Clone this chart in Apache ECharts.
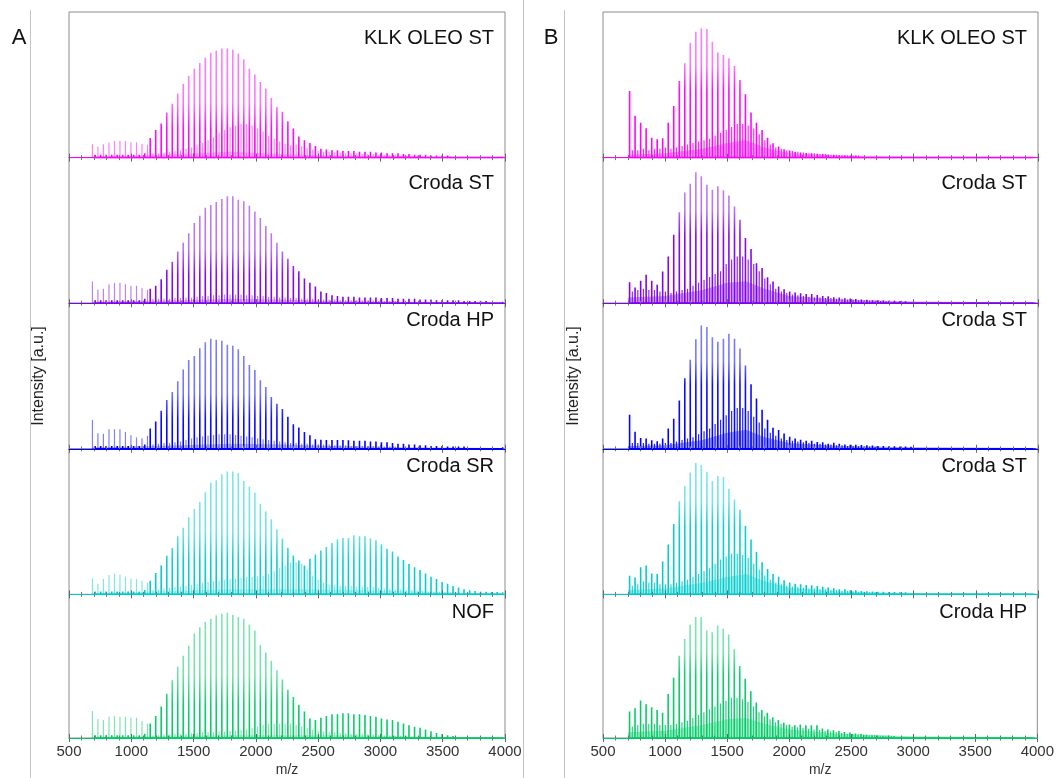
<!DOCTYPE html>
<html><head><meta charset="utf-8">
<script src="https://cdn.jsdelivr.net/npm/echarts@6/dist/echarts.min.js"></script>
<style>html,body{margin:0;padding:0;background:#fff}#c{width:1057px;height:778px}</style>
</head><body><div id="c"></div>
<script>
// ---------- DATA ----------
const X_TICKS = [500, 1000, 1500, 2000, 2500, 3000, 3500, 4000];
const PANEL_LETTERS = ['A', 'B'];
const Y_TITLE = 'Intensity [a.u.]';
const X_TITLE = 'm/z';
const NAMES_A = ['KLK OLEO ST', 'Croda ST', 'Croda HP', 'Croda SR', 'NOF'];
const NAMES_B = ['KLK OLEO ST', 'Croda ST', 'Croda ST', 'Croda ST', 'Croda HP'];

// oligomer peak positions (m/z)
const MZ_A = [710,754,798,843,887,931,975,1019,1064,1108,1152,1196,1240,1285,1329,1373,1417,1461,1506,1550,1594,1638,1682,1727,1771,1815,1859,1903,1948,1992,2036,2080,2124,2169,2213,2257,2301,2345,2390,2434,2478,2522,2566,2611,2655,2699,2743,2787,2832,2876,2920,2964,3008,3053,3097,3141,3185,3229,3274,3318,3362,3406,3450,3495,3539,3583,3627,3671,3716,3760,3804,3848,3892,3937,3981];
const MZ_B = [714,758,803,847,892,936,980,1025,1069,1114,1158,1202,1247,1291,1336,1380,1424,1469,1513,1558,1602,1646,1691,1735,1780,1824,1868,1913,1957,2002,2046,2090,2135,2179,2224,2268,2312,2357,2401,2446,2490,2534,2579,2623,2668,2712,2756,2801,2845,2890,2934,2978,3023,3067,3112,3156,3200,3245,3289,3334,3378,3422,3467,3511,3556,3600,3644,3689,3733,3778,3822,3866,3911,3955];
// mass offset of the second (end-group) series relative to the main series
const SHIFT_A = -22;
const SHIFT_B = 22;

// relative intensities (% of panel height)
const A1_MAIN = [2,2,2,2,2,2,2,2,2,3, 13.5,19,23.5,31,37,44,50.5,56,61,65, 68.5,72,73.5,75,75,74,71.5,67.5,61,57, 52,47.5,41,34.5,31.5,25,20,14.5,12,10, 8,6,5.5,5,5,4.5,4.5,4.5,4,4, 4,3.5,3.5,3,3,3,2.5,2.5,2,2, 2,1.5,1.5,1.5,1.5,1,1,1,1,1, 1,0.8,0.8,0.8,0.8];
const A1_SEC = [9.1,7.5,9.1,10.3,11.4,11.6,11.4,10.5,10.5,9.4, 8.9,3,3,3.5,4,4.5,5,6,7,8.5, 10,12,14,17,19,21,22,23,23,22, 20,18,15,13,11,9.5,8.5,9,8,6.5, 5.5,4.5,4,4,3.5,3.5,3,3,3,2.5, 2.5,2.5,2,2,2,2,1.5,1.5,1.5,1.5, 1.2,1.2,1.2,1,1,1,1,0.8,0.8,0.8, 0.8,0.6,0.6,0.6,0.6];
const A2_MAIN = [2,2,2,2,2,2,2,2,2,3, 10,12,16.5,23,28.5,35.5,41.5,48,55,60, 65.5,67.5,69.5,71.5,73.5,73.5,71,70,67,63, 58.5,53,48,41.5,35.5,30.5,25.5,22,17,14, 11.5,8,7,5.5,5,4.5,4.5,4.5,4,4, 4,4,3.5,3.5,3.5,3,3,3,3,2.5, 2.5,2.5,2,2,2,2,2,1.5,1.5,1.5, 1.5,1.5,1,1,1];
const A2_SEC = [14.9,9.2,9.9,13.1,13.8,14,13.1,11.9,11.9,10.3, 9.2,3,3,3,3,3.5,3.5,4,4,4.5, 5,5,5.5,5.5,6,6,6,6,5.5,5.5, 5,5,4.5,4.5,4,4,3.5,3.5,3,3, 3,2.5,2.5,2.5,2.5,2,2,2,2,2, 1.8,1.8,1.5,1.5,1.5,1.5,1.2,1.2,1.2,1.2, 1,1,1,1,1,0.8,0.8,0.8,0.8,0.8, 0.6,0.6,0.6,0.6,0.6];
const A3_MAIN = [2,2,2,2,2,2,2,2,2,3, 13.9,18.8,26.2,33.6,39,46.4,54.5,61,63.8,69.1, 73.1,75.6,74.9,74.2,71.5,70.8,68.4,63.8,57.5,54.1, 47.1,42.5,35.5,30.9,27.4,22,16.9,14.6,11.6,9.3, 6.5,6.3,6,6,6,6,5.8,5.5,5.5,5.5, 5,5,4.5,4.5,4,3.5,3.5,3,3,2.5, 2.5,2,2,2,1.5,1.5,1.5,1.5,1.2,1.2, 1.2,1,1,1,1];
const A3_SEC = [19.7,10.7,10.4,13.5,13.5,13.5,11.6,9.3,7.7,7.2, 9,3,3.5,4,4,4.5,5,6,7,8, 8.5,9,9.5,10,10,10,9.5,9,8.5,8, 7,6.5,6,5.5,5,4.5,4,4,3.5,3.5, 3,3,3,3,2.5,2.5,2.5,2,2,2, 2,2,1.5,1.5,1.5,1.5,1.2,1.2,1.2,1, 1,1,1,0.8,0.8,0.8,0.8,0.6,0.6,0.6, 0.6,0.5,0.5,0.5,0.5];
const A4_MAIN = [2,2,2,2,2,2,2,2,2,3, 9.3,14.7,19.8,26.5,31.9,40,45.8,53,58.6,63.5, 70.2,76.7,78.4,82.6,84.4,84.4,83.3,77.9,74,69.8, 62.3,57,51.6,44.7,38.4,32.1,26.7,23.3,19.8,24.4, 27.4,30.2,32.6,35.3,37.7,38.8,38.8,40.7,40,40, 38.4,37.2,34.4,31.4,29.5,26,23.7,20.9,18.6,16.7, 14.4,12.1,10.5,8.6,7.4,5.8,4.7,3.5,2.8,2.3, 1.9,1.8,1.6,1.6,1.5];
const A4_SEC = [10.9,7.4,10.5,13.3,14.4,13.5,12.1,10.9,10.5,9.3, 8.1,3,3.5,4,4.5,5,5.5,6,6.5,7, 8,8.5,9,9.5,10,10.5,11,11.5,12,12, 12.5,13,14,16,18,20,22,22,21,17, 13,10,8,7,6.5,6,6,6,5.5,5.5, 5,5,4.5,4,4,3.5,3.5,3,3,2.5, 2.5,2,2,2,1.5,1.5,1.5,1.2,1.2,1, 1,1,0.8,0.8,0.8];
const A5_MAIN = [2,2,2,2,2,2,2,2,2,3, 10.1,15.3,21.9,30.8,40.2,49.6,57.2,64.2,72.9,77.2, 80.7,83.1,85.4,86.6,87.3,85.9,84.2,83.1,79.1,74.8, 64.7,59.5,53.6,47.1,40.7,33.6,28.5,23.1,18.4,13.6, 12.5,14.1,15.3,16.5,16.5,17.2,17.2,16.5,16.5,16, 15.3,14.8,13.6,12.9,12.5,11.3,10.1,8.9,7.8,7.1, 5.9,4.7,3.5,2.6,1.9,1.4,1.2,1,1,0.8, 0.8,0.8,0.7,0.7,0.7];
const A5_SEC = [18.8,13.2,12.5,14.8,15.3,14.8,14.8,14.1,14.1,11.8, 10.1,2,2,2.5,2.5,3,3,3,3.5,3.5, 4,4,4,4.5,4.5,5,5,5.5,6,7, 8,9,10,10,10,10,10,9,8,7, 6,5,4.5,4,4,3.5,3.5,3,3,3, 2.5,2.5,2,2,2,1.5,1.5,1.5,1.2,1.2, 1,1,1,0.8,0.8,0.8,0.6,0.6,0.6,0.5, 0.5,0.5,0.5,0.5,0.5];

const B1_MAIN = [45.8,28.8,24,20.1,13.7,12.6,13.3,24,35.5,52.6, 64.8,78.9,86.5,88.8,88.3,79.6,72.1,70.5,68.2,62.9, 53.3,43.5,30.9,24,19,13.7,9.8,7.6,5.7,4.8, 4.1,3.5,3.2,3,2.7,2.5,2.2,2,1.8,1.6, 1.5,1.4,1.3,1.2,1.1,1,1,0.9,0.9,0.8, 0.8,0.8,0.7,0.7,0.7,0.7,0.6,0.6,0.6,0.6, 0.6,0.5,0.5,0.5,0.5,0.5,0.5,0.5,0.5,0.5, 0.5,0.5,0.5,0.5];
const B1_SEC = [5,5,6,5,6,6,7,6,7,8, 9,10,11,12,13,15,17,19,21,23, 23,22,20,16,12,9,7,6,5,4.5, 4,3.5,3,3,2.5,2.5,2,2,1.8,1.6, 1.5,1.4,1.3,1.2,1.1,1,1,0.9,0.9,0.8, 0.8,0.7,0.7,0.6,0.6,0.6,0.5,0.5,0.5,0.5, 0.5,0.4,0.4,0.4,0.4,0.4,0.4,0.4,0.4,0.4, 0.4,0.4,0.4,0.4];
const B2_MAIN = [14.4,10.8,15.4,19.5,15.4,12.6,21.8,32.1,47,62.4, 76.1,82.1,89.9,87.2,81.4,78,80.3,77.5,73.9,66.5, 57.3,44.7,37.2,27.5,24.1,17.9,14.9,11.5,9.6,8, 7.3,6.9,6.4,6.4,5.7,5,4.8,4.1,3.9,3.4, 3.2,2.8,2.5,2.3,2.1,2,1.8,1.7,1.6,1.5, 1.4,1.3,1.2,1.1,1,1,0.9,0.9,0.8,0.8, 0.8,0.7,0.7,0.7,0.6,0.6,0.6,0.6,0.5,0.5, 0.5,0.5,0.5,0.5];
const B2_SEC = [8,9,10,9,9,8,8,7,8,9, 10,12,14,16,18,20,22,27,30,32, 32,30,27,22,17,13,10,8,7,6, 5.5,5,4.5,4,4,3.5,3.5,3,3,2.5, 2.5,2,2,1.8,1.6,1.5,1.4,1.3,1.2,1.1, 1,1,0.9,0.9,0.8,0.8,0.7,0.7,0.7,0.6, 0.6,0.6,0.5,0.5,0.5,0.5,0.5,0.5,0.5,0.5, 0.5,0.5,0.5,0.5];
const B3_MAIN = [23.4,11.7,7.5,7,5.8,5.1,7,14,20.6,33.2, 48.4,61.2,75.2,84.6,83.6,76.6,73.6,75.5,79,75.5, 68.9,57.2,44.4,34.6,26.9,19.9,14.5,12.9,10.5,8.2, 7,6.3,5.6,5.6,4.7,4.5,3.5,4.2,3.5,3, 2.8,2.8,2.6,2.4,2.2,2,1.9,1.8,1.7,1.6, 1.5,1.4,1.3,1.2,1.1,1,1,0.9,0.9,0.8, 0.8,0.8,0.7,0.7,0.7,0.6,0.6,0.6,0.6,0.6, 0.6,0.6,0.6,0.6];
const B3_SEC = [4,4,4,3.5,3.5,3.5,4,4,5,6, 7,8,10,12,14,17,20,23,26,28, 28,26,22,18,14,11,9,7,6,5.5, 5,4.5,4,3.5,3.5,3,3,2.5,2.5,2, 2,1.8,1.6,1.5,1.4,1.3,1.2,1.1,1,1, 0.9,0.9,0.8,0.8,0.7,0.7,0.7,0.6,0.6,0.6, 0.5,0.5,0.5,0.5,0.5,0.5,0.5,0.5,0.5,0.5, 0.5,0.5,0.5,0.5];
const B4_MAIN = [12.8,11.6,18.6,19.8,14.4,14,22.6,34.2,48.4,64, 74.4,83.7,90.2,88.8,84.2,77.9,81.4,80.7,72.6,65.1, 58.1,47,37.7,29.1,22.1,17.4,14,12.1,9.8,8.1, 7.4,7,6.5,6.3,5.8,5.2,4.7,4.2,3.5,3.5, 2.8,2.8,2.3,2.2,2,1.9,1.8,1.7,1.6,1.5, 1.4,1.3,1.2,1.1,1,1,0.9,0.9,0.8,0.8, 0.8,0.7,0.7,0.7,0.6,0.6,0.6,0.6,0.6,0.6, 0.6,0.6,0.6,0.6];
const B4_SEC = [6,7,9,8,8,7,7,7,8,9, 10,12,14,16,18,21,24,26,28,28, 27,25,21,17,13,10,8,7,6,5.5, 5,4.5,4,4,3.5,3.5,3,3,2.5,2.5, 2,1.8,1.6,1.5,1.4,1.3,1.2,1.1,1,1, 0.9,0.9,0.8,0.8,0.7,0.7,0.7,0.6,0.6,0.6, 0.5,0.5,0.5,0.5,0.5,0.5,0.5,0.5,0.5,0.5, 0.5,0.5,0.5,0.5];
const B5_MAIN = [18.4,20.7,26.1,23.5,21.4,19.5,17.6,30.6,41.9,57.2, 68.9,78.8,84.2,84.2,74.8,73.6,78.4,76,72,61.9, 50.1,41.2,32.5,24.7,19.5,17.6,14.4,12.5,10.6,9.4, 8.9,9.4,8.9,8.9,8.9,6.6,5.9,5.4,4.9,4.2, 3.8,3.1,2.7,2.3,2,1.8,1.6,1.5,1.4,1.3, 1.2,1.1,1,1,0.9,0.9,0.8,0.8,0.8,0.7, 0.7,0.7,0.6,0.6,0.6,0.6,0.5,0.5,0.5,0.5, 0.5,0.5,0.5,0.5];
const B5_SEC = [8,9,10,10,10,9,9,9,10,11, 12,14,16,18,20,22,24,26,28,28, 27,25,22,18,15,13,11,10,9,8, 7.5,7,6.5,6,5.5,5,4.5,4,3.5,3, 3,2.5,2.5,2,2,1.5,1.5,1.4,1.3,1.2, 1.1,1,1,0.9,0.9,0.8,0.8,0.7,0.7,0.7, 0.6,0.6,0.6,0.6,0.5,0.5,0.5,0.5,0.5,0.5, 0.5,0.5,0.5,0.5];

// unresolved background (dense small peaks) envelope: [m/z, %]
const A1_BG = [[690,1],[1000,1.5],[1400,2.5],[1800,4],[2200,2.5],[2600,1.5],[3200,1],[4000,0.5]];
const A2_BG = [[690,1],[1000,1.5],[1400,2],[1800,3],[2200,2.5],[2600,1.5],[3200,1],[4000,0.5]];
const A3_BG = [[690,1],[1000,1.5],[1400,2.5],[1800,3.5],[2200,3],[2600,2],[3200,1],[4000,0.5]];
const A4_BG = [[690,1],[1000,1.5],[1400,2.5],[1800,3.5],[2300,3.5],[2800,3],[3300,2],[4000,0.5]];
const A5_BG = [[690,0.8],[1000,1],[1400,1.5],[1800,2],[2300,2],[2800,2],[3300,1],[4000,0.5]];
const B1_BG = [[700,2],[1000,3],[1300,6],[1500,10],[1650,12],[1800,7],[2000,3],[2400,1.5],[3000,0.8],[4000,0.4]];
const B2_BG = [[700,4],[1000,5],[1300,9],[1500,14],[1650,15],[1800,10],[2000,5],[2400,2.5],[3000,1.2],[4000,0.5]];
const B3_BG = [[700,2],[1000,2.5],[1300,6],[1500,11],[1650,13],[1800,8],[2000,4],[2400,2],[3000,1],[4000,0.5]];
const B4_BG = [[700,3],[1000,4],[1300,8],[1500,12],[1650,14],[1800,9],[2000,4.5],[2400,2],[3000,1],[4000,0.5]];
const B5_BG = [[700,4],[1000,5],[1300,9],[1500,13],[1650,14],[1800,10],[2000,6],[2400,3],[3000,1.2],[4000,0.5]];

// ---------- STYLE / LAYOUT ----------
const FONT = '"Liberation Sans", Helvetica, Arial, sans-serif';
const COLORS = [[255,0,255],[127,0,240],[0,0,255],[0,204,204],[0,204,102]];
const rgba = (c, a) => `rgba(${c[0]},${c[1]},${c[2]},${a})`;
const TOP0 = 12, ROW_H = 145.6;
const LABEL_Y = [38, 183, 320, 466, 612];

const PANELS = [
  { left: 69, width: 436, mz: MZ_A, shift: SHIFT_A, names: NAMES_A,
    main: [A1_MAIN, A2_MAIN, A3_MAIN, A4_MAIN, A5_MAIN],
    sec: [A1_SEC, A2_SEC, A3_SEC, A4_SEC, A5_SEC],
    bg: [A1_BG, A2_BG, A3_BG, A4_BG, A5_BG], secAlpha: 0.5, bgAlpha: 0.35,
    grad: [0.5, 0.72], letterX: 19, yTitleX: 39 },
  { left: 603, width: 435, mz: MZ_B, shift: SHIFT_B, names: NAMES_B,
    main: [B1_MAIN, B2_MAIN, B3_MAIN, B4_MAIN, B5_MAIN],
    sec: [B1_SEC, B2_SEC, B3_SEC, B4_SEC, B5_SEC],
    bg: [B1_BG, B2_BG, B3_BG, B4_BG, B5_BG], secAlpha: 0.85, bgAlpha: 0.5,
    grad: [0.3, 0.48], letterX: 551, yTitleX: 574 }
];

function sticks(mz, h, shift) {
  const d = [];
  for (let i = 0; i < h.length && i < mz.length; i++) {
    const x = mz[i] + shift;
    d.push([x, 0], [x, h[i]], [x, 0]);
  }
  return d;
}

const grid = [], xAxis = [], yAxis = [], series = [], graphic = [];
PANELS.forEach((p, pi) => {
  for (let r = 0; r < 5; r++) {
    const g = grid.length;
    const c = COLORS[r];
    const isBottom = r === 4;
    grid.push({ left: p.left, width: p.width, top: TOP0 + r * ROW_H, height: ROW_H,
      show: true, borderColor: '#8c8c8c', borderWidth: 1, backgroundColor: 'transparent' });
    const common = {
      type: 'value', gridIndex: g, min: X_TICKS[0], max: X_TICKS[X_TICKS.length - 1],
      interval: X_TICKS[1] - X_TICKS[0],
      splitLine: { show: false }, minorSplitLine: { show: false },
      axisTick: { show: true, inside: true, length: 4, lineStyle: { color: '#666', width: 1 } },
      minorTick: { show: true, splitNumber: 5, length: 2.5, lineStyle: { color: '#777', width: 1 } }
    };
    xAxis.push(Object.assign({}, common, {
      position: 'bottom', z: 5,
      axisLine: { show: true, onZero: false, lineStyle: { color: rgba(c, 1), width: 1.2 } },
      axisLabel: { show: isBottom, formatter: v => X_TICKS.includes(v) ? String(v) : '',
        color: '#333', fontSize: 15, fontFamily: FONT, margin: 6 },
      name: isBottom ? X_TITLE : '', nameLocation: 'middle', nameGap: 25,
      nameTextStyle: { color: '#333', fontSize: 14, fontFamily: FONT }
    }));
    xAxis.push(Object.assign({}, common, {
      position: 'top', axisLine: { show: false }, axisLabel: { show: false }
    }));
    yAxis.push({ type: 'value', gridIndex: g, min: 0, max: 100, show: false });
    const xi = 2 * g;
    series.push({ type: 'line', xAxisIndex: xi, yAxisIndex: g, data: p.bg[r], showSymbol: false,
      silent: true, lineStyle: { width: 0 }, areaStyle: { color: rgba(c, p.bgAlpha), origin: 'start' }, z: 2 });
    series.push({ type: 'line', xAxisIndex: xi, yAxisIndex: g, data: sticks(p.mz, p.sec[r], p.shift),
      showSymbol: false, silent: true, sampling: null,
      lineStyle: { width: 1.2, color: rgba(c, p.secAlpha), join: 'bevel' }, z: 3 });
    series.push({ type: 'line', xAxisIndex: xi, yAxisIndex: g, data: sticks(p.mz, p.main[r], 0),
      showSymbol: false, silent: true,
      lineStyle: { width: 1.6, join: 'bevel',
        color: new echarts.graphic.LinearGradient(0, 0, 0, 1, [
          { offset: 0, color: rgba(c, 0.5) }, { offset: p.grad[0], color: rgba(c, 0.55) },
          { offset: p.grad[1], color: rgba(c, 0.95) }, { offset: 1, color: rgba(c, 1) }]) }, z: 4 });
    graphic.push({ type: 'text', x: p.left + p.width - 11, y: LABEL_Y[r], silent: true,
      style: { text: p.names[r], font: '20px ' + FONT, fill: '#111', align: 'right', verticalAlign: 'middle' } });
  }
  graphic.push({ type: 'text', x: p.letterX, y: 38, silent: true,
    style: { text: PANEL_LETTERS[pi], font: '22px ' + FONT, fill: '#111', align: 'center', verticalAlign: 'middle' } });
  graphic.push({ type: 'text', x: p.yTitleX, y: 376, rotation: Math.PI / 2, silent: true,
    style: { text: Y_TITLE, font: '16px ' + FONT, fill: '#222', align: 'center', verticalAlign: 'middle' } });
});
[[30.5, 10], [523.5, 0], [564.5, 10]].forEach(([x, y0]) => {
  graphic.push({ type: 'line', silent: true, shape: { x1: x, y1: y0, x2: x, y2: 778 },
    style: { stroke: '#c4c4c4', lineWidth: 1 } });
});

const chart = echarts.init(document.getElementById('c'), null, { renderer: 'canvas' });
chart.setOption({ animation: false, backgroundColor: '#fff', grid, xAxis, yAxis, series, graphic });
</script></body></html>
